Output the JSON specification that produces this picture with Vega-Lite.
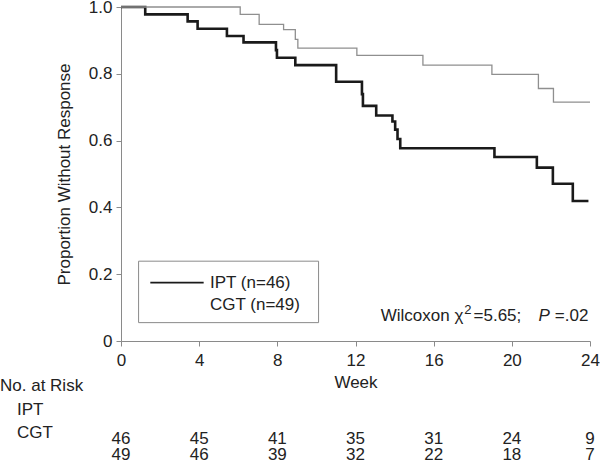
{
  "$schema": "https://vega.github.io/schema/vega-lite/v6.json",
  "width": 469,
  "height": 334,
  "autosize": "none",
  "padding": {"left": 121, "top": 7, "right": 10, "bottom": 126},
  "config": {
    "font": "Liberation Sans",
    "view": {"stroke": null},
    "text": {"font": "Liberation Sans", "fontSize": 17, "color": "#222"}
  },
  "datasets": {
    "km": [
      {"group": "IPT", "week": 0, "surv": 1.0},
      {"group": "IPT", "week": 1.24, "surv": 0.978},
      {"group": "IPT", "week": 3.41, "surv": 0.957},
      {"group": "IPT", "week": 3.92, "surv": 0.935},
      {"group": "IPT", "week": 5.42, "surv": 0.913},
      {"group": "IPT", "week": 6.27, "surv": 0.894},
      {"group": "IPT", "week": 7.93, "surv": 0.871},
      {"group": "IPT", "week": 7.98, "surv": 0.848},
      {"group": "IPT", "week": 8.92, "surv": 0.826},
      {"group": "IPT", "week": 11.01, "surv": 0.776},
      {"group": "IPT", "week": 12.33, "surv": 0.739},
      {"group": "IPT", "week": 12.38, "surv": 0.704},
      {"group": "IPT", "week": 13.06, "surv": 0.675},
      {"group": "IPT", "week": 13.89, "surv": 0.657},
      {"group": "IPT", "week": 14.03, "surv": 0.633},
      {"group": "IPT", "week": 14.15, "surv": 0.605},
      {"group": "IPT", "week": 14.29, "surv": 0.577},
      {"group": "IPT", "week": 19.11, "surv": 0.551},
      {"group": "IPT", "week": 21.28, "surv": 0.519},
      {"group": "IPT", "week": 22.1, "surv": 0.471},
      {"group": "IPT", "week": 23.12, "surv": 0.419},
      {"group": "IPT", "week": 23.92, "surv": 0.419},
      {"group": "CGT", "week": 0, "surv": 1.0},
      {"group": "CGT", "week": 6.1, "surv": 0.978},
      {"group": "CGT", "week": 7.07, "surv": 0.948},
      {"group": "CGT", "week": 8.32, "surv": 0.932},
      {"group": "CGT", "week": 8.92, "surv": 0.903},
      {"group": "CGT", "week": 9.05, "surv": 0.877},
      {"group": "CGT", "week": 12.07, "surv": 0.855},
      {"group": "CGT", "week": 15.45, "surv": 0.826},
      {"group": "CGT", "week": 18.98, "surv": 0.798},
      {"group": "CGT", "week": 21.36, "surv": 0.756},
      {"group": "CGT", "week": 22.13, "surv": 0.715},
      {"group": "CGT", "week": 24.0, "surv": 0.715}
    ],
    "risk": [
      {"group": "IPT", "week": 0, "n": 46},
      {"group": "IPT", "week": 4, "n": 45},
      {"group": "IPT", "week": 8, "n": 41},
      {"group": "IPT", "week": 12, "n": 35},
      {"group": "IPT", "week": 16, "n": 31},
      {"group": "IPT", "week": 20, "n": 24},
      {"group": "IPT", "week": 24, "n": 9},
      {"group": "CGT", "week": 0, "n": 49},
      {"group": "CGT", "week": 4, "n": 46},
      {"group": "CGT", "week": 8, "n": 39},
      {"group": "CGT", "week": 12, "n": 32},
      {"group": "CGT", "week": 16, "n": 22},
      {"group": "CGT", "week": 20, "n": 18},
      {"group": "CGT", "week": 24, "n": 7}
    ],
    "heads": [
      {"label": "No. at Risk", "indent": "head"},
      {"label": "IPT", "indent": "group"},
      {"label": "CGT", "indent": "group"}
    ],
    "legend": [
      {"group": "IPT", "label": "IPT (n=46)"},
      {"group": "CGT", "label": "CGT (n=49)"}
    ],
    "one": [{}]
  },
  "layer": [
    {
      "layer": [
        {
          "data": {"name": "km"},
          "mark": {"type": "line", "interpolate": "step-after"},
          "encoding": {
            "x": {
              "field": "week", "type": "quantitative",
              "scale": {"domain": [0, 24], "nice": false, "zero": false},
              "axis": {
                "title": "Week", "values": [0, 4, 8, 12, 16, 20, 24],
                "grid": false, "domainColor": "#8a8a8a", "tickColor": "#8a8a8a",
                "tickSize": 5, "labelPadding": 6, "labelFont": "Liberation Sans",
                "labelFontSize": 17, "labelColor": "#222", "titleFont": "Liberation Sans",
                "titleFontSize": 17, "titleFontWeight": "normal", "titleColor": "#222",
                "titlePadding": 6, "labelFlush": false
              }
            },
            "y": {
              "field": "surv", "type": "quantitative",
              "scale": {"domain": [0, 1], "nice": false},
              "axis": {
                "title": "Proportion Without Response", "values": [0, 0.2, 0.4, 0.6, 0.8, 1],
                "labelExpr": "datum.value == 0 ? '0' : format(datum.value, '.1f')",
                "grid": false, "domainColor": "#8a8a8a", "tickColor": "#8a8a8a",
                "tickSize": 5, "labelPadding": 4, "labelFont": "Liberation Sans",
                "labelFontSize": 17, "labelColor": "#222", "titleFont": "Liberation Sans",
                "titleFontSize": 17, "titleFontWeight": "normal", "titleColor": "#222",
                "titlePadding": 15, "labelFlush": false
              }
            },
            "color": {
              "field": "group", "type": "nominal",
              "scale": {"domain": ["IPT", "CGT"], "range": ["#1a1a1a", "#8f8f8f"]},
              "legend": null
            },
            "strokeWidth": {
              "field": "group", "type": "nominal",
              "scale": {"domain": ["IPT", "CGT"], "range": [2.6, 1.3]},
              "legend": null
            }
          }
        },
        {
          "data": {"name": "one"},
          "mark": {"type": "rect", "fill": "transparent", "stroke": "#8a8a8a", "strokeWidth": 1},
          "encoding": {
            "x": {"datum": 0.9, "type": "quantitative"},
            "x2": {"datum": 10.11},
            "y": {"datum": 0.239, "type": "quantitative"},
            "y2": {"datum": 0.055}
          }
        },
        {
          "data": {"name": "one"},
          "mark": {"type": "rule", "color": "#1a1a1a", "strokeWidth": 1.8},
          "encoding": {
            "x": {"datum": 1.5, "type": "quantitative"},
            "x2": {"datum": 4.23},
            "y": {"datum": 0.175, "type": "quantitative"}
          }
        },
        {
          "data": {"name": "one"},
          "mark": {"type": "text", "align": "right", "baseline": "middle", "text": "Wilcoxon χ"},
          "encoding": {
            "x": {"datum": 17.52, "type": "quantitative"},
            "y": {"datum": 0.074, "type": "quantitative"}
          }
        },
        {
          "data": {"name": "one"},
          "mark": {"type": "text", "align": "left", "baseline": "middle", "text": "2", "fontSize": 13},
          "encoding": {
            "x": {"datum": 17.57, "type": "quantitative"},
            "y": {"datum": 0.094, "type": "quantitative"}
          }
        },
        {
          "data": {"name": "one"},
          "mark": {"type": "text", "align": "left", "baseline": "middle", "text": "=5.65;"},
          "encoding": {
            "x": {"datum": 18.04, "type": "quantitative"},
            "y": {"datum": 0.074, "type": "quantitative"}
          }
        },
        {
          "data": {"name": "one"},
          "mark": {"type": "text", "align": "right", "baseline": "middle", "text": "P", "fontStyle": "italic"},
          "encoding": {
            "x": {"datum": 21.95, "type": "quantitative"},
            "y": {"datum": 0.074, "type": "quantitative"}
          }
        },
        {
          "data": {"name": "one"},
          "mark": {"type": "text", "align": "right", "baseline": "middle", "text": "=.02"},
          "encoding": {
            "x": {"datum": 23.92, "type": "quantitative"},
            "y": {"datum": 0.074, "type": "quantitative"}
          }
        }
      ]
    },
    {
      "data": {"name": "legend"},
      "mark": {"type": "text", "align": "left", "baseline": "middle"},
      "encoding": {
        "x": {"field": "group", "type": "nominal",
          "scale": {"type": "point", "domain": ["IPT", "CGT"], "range": [89, 89], "padding": 0},
          "axis": null},
        "y": {
          "field": "group", "type": "nominal",
          "scale": {"type": "point", "domain": ["IPT", "CGT"], "range": [276, 298], "padding": 0},
          "axis": null
        },
        "text": {"field": "label"}
      }
    },
    {
      "data": {"name": "risk"},
      "mark": {"type": "text", "align": "center", "baseline": "middle"},
      "encoding": {
        "x": {"field": "week", "type": "quantitative",
          "scale": {"domain": [0, 24], "nice": false, "zero": false}, "axis": null},
        "y": {
          "field": "group", "type": "nominal",
          "scale": {"type": "point", "domain": ["IPT", "CGT"], "range": [432, 448], "padding": 0},
          "axis": null
        },
        "text": {"field": "n"}
      }
    },
    {
      "data": {"name": "heads"},
      "mark": {"type": "text", "align": "left", "baseline": "middle"},
      "encoding": {
        "x": {
          "field": "indent", "type": "nominal",
          "scale": {"type": "point", "domain": ["head", "group"], "range": [-121, -104], "padding": 0},
          "axis": null
        },
        "y": {
          "field": "label", "type": "nominal",
          "scale": {"type": "point", "domain": ["No. at Risk", "IPT", "CGT"], "range": [379, 426], "padding": 0},
          "axis": null
        },
        "text": {"field": "label"}
      }
    }
  ],
  "resolve": {"scale": {"y": "independent", "x": "independent"}, "axis": {"x": "independent", "y": "independent"}}
}
